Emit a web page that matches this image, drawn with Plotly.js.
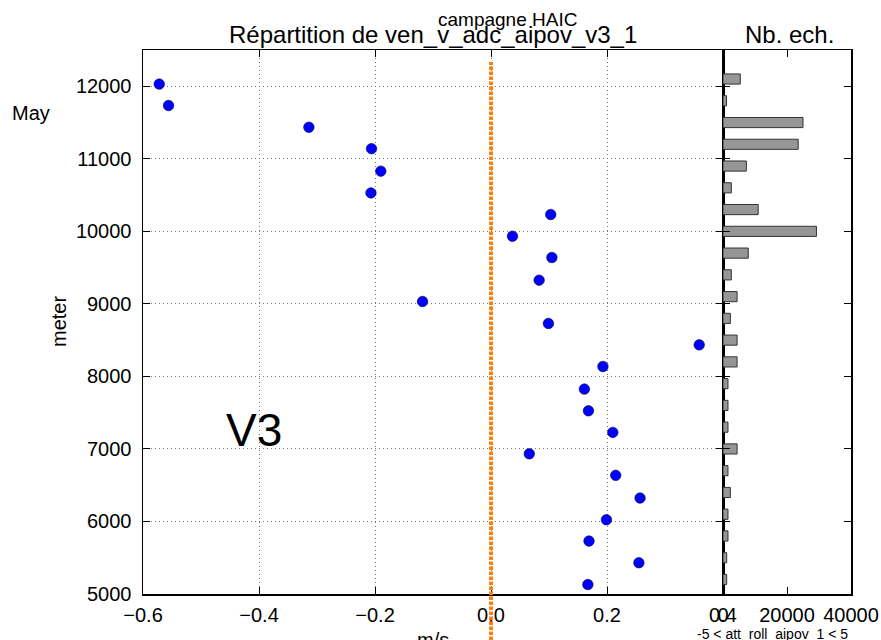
<!DOCTYPE html>
<html>
<head>
<meta charset="utf-8">
<script src="https://cdn.plot.ly/plotly-3.0.1.min.js"></script>
<style>html,body{margin:0;padding:0;background:#fff;}#chart{width:881px;height:640px;}</style>
</head>
<body>
<div id="chart"></div>
<script>
// Scatter: wind difference vs altitude
const dotAltitude = [12030, 11735, 11435, 11140, 10830, 10530, 10232, 9933, 9639, 9327, 9033, 8730,
                     8435, 8137, 7825, 7526, 7228, 6933, 6636, 6323, 6024, 5730, 5431, 5130];
const dotValue = [-0.572, -0.556, -0.314, -0.206, -0.190, -0.207, 0.103, 0.037, 0.105, 0.083, -0.118, 0.099,
                  0.359, 0.193, 0.161, 0.168, 0.210, 0.066, 0.215, 0.257, 0.199, 0.169, 0.255, 0.167];
// Histogram: sample counts per altitude layer
const barAltitude = [12100, 11800, 11500, 11200, 10900, 10600, 10300, 10000, 9700, 9400, 9100, 8800,
                     8500, 8200, 7900, 7600, 7300, 7000, 6700, 6400, 6100, 5800, 5500, 5200];
const barCount = [5400, 1100, 25000, 23500, 7300, 2600, 11000, 29200, 7900, 2600, 4400, 2300,
                  4400, 4400, 1560, 1560, 1560, 4400, 1560, 2300, 1560, 1560, 1150, 1150];
const xTicks = [-0.6, -0.4, -0.2, 0.0, 0.2, 0.4];
const xTickText = ['\u22120.6', '\u22120.4', '\u22120.2', '0.0', '0.2', '0.4'];
const yTicks = [5000, 6000, 7000, 8000, 9000, 10000, 11000, 12000];
const x2Ticks = [0, 20000, 40000];
const x2TickText = ['0', '20000', '40000'];
const refLineX = 0;

const FONT = 'Liberation Sans, Arial, sans-serif';
const L = 143, R = 851, T = 50, B = 594;
const px = v => (v - L) / (R - L);
const py = v => (B - v) / (B - T);

const traces = [
  {
    type: 'scatter', mode: 'markers', x: dotValue, y: dotAltitude,
    xaxis: 'x', yaxis: 'y',
    marker: {color: '#0000ff', size: 10.5, line: {color: '#000033', width: 0.6}},
    hoverinfo: 'x+y'
  },
  {
    type: 'bar', orientation: 'h', x: barCount, y: barAltitude,
    xaxis: 'x2', yaxis: 'y2', width: 140,
    marker: {color: '#969696', line: {color: '#333333', width: 1}}
  }
];

const axisCommon = {
  showline: true, linecolor: '#000', linewidth: 1.5, mirror: 'ticks',
  ticks: 'inside', ticklen: 7, tickwidth: 1, tickcolor: '#000',
  tickfont: {family: FONT, size: 20, color: '#000'}, zeroline: false
};

const layout = {
  width: 881, height: 640,
  margin: {l: L, r: 881 - R, t: T, b: 640 - B, pad: 0},
  paper_bgcolor: '#fff', plot_bgcolor: '#fff',
  showlegend: false,
  bargap: 0,
  xaxis: Object.assign({}, axisCommon, {
    domain: [0, px(723)], anchor: 'y', range: [-0.6, 0.4],
    tickvals: xTicks, ticktext: xTickText,
    showgrid: true, gridcolor: '#777', gridwidth: 1, griddash: '1px,3px',
    ticklabelstandoff: 2
  }),
  yaxis: Object.assign({}, axisCommon, {
    domain: [0, 1], anchor: 'x', range: [5000, 12500],
    tickvals: yTicks, ticktext: yTicks.map(String),
    showgrid: true, gridcolor: '#777', gridwidth: 1, griddash: '1px,3px',
    ticklabelstandoff: 6
  }),
  xaxis2: Object.assign({}, axisCommon, {
    domain: [px(723), 1], anchor: 'y2', range: [0, 40000],
    tickvals: x2Ticks, ticktext: x2TickText, showgrid: false,
    ticklabelstandoff: 2
  }),
  yaxis2: Object.assign({}, axisCommon, {
    domain: [0, 1], anchor: 'x2', range: [5000, 12500], matches: 'y',
    tickvals: yTicks, showticklabels: false, showgrid: false
  }),
  shapes: [{
    type: 'line', xref: 'x', yref: 'paper', x0: refLineX, x1: refLineX,
    y0: py(645), y1: py(62),
    line: {color: '#ff7f0e', width: 4, dash: '3.5px,1.5px'}
  }],
  annotations: [
    {text: 'campagne HAIC', xref: 'paper', yref: 'paper', x: px(507), y: py(19),
     xanchor: 'center', yanchor: 'middle', showarrow: false,
     font: {family: FONT, size: 19, color: '#000'}},
    {text: 'Répartition de ven_v_adc_aipov_v3_1', xref: 'paper', yref: 'paper', x: px(433), y: py(35),
     xanchor: 'center', yanchor: 'middle', showarrow: false,
     font: {family: FONT, size: 24, color: '#000'}},
    {text: 'Nb. ech.', xref: 'paper', yref: 'paper', x: px(789), y: py(35),
     xanchor: 'center', yanchor: 'middle', showarrow: false,
     font: {family: FONT, size: 24, color: '#000'}},
    {text: 'May', xref: 'paper', yref: 'paper', x: px(10), y: py(113),
     xanchor: 'left', yanchor: 'middle', showarrow: false,
     font: {family: FONT, size: 20, color: '#000'}},
    {text: 'V3', xref: 'paper', yref: 'paper', x: px(254), y: py(430),
     xanchor: 'center', yanchor: 'middle', showarrow: false,
     font: {family: FONT, size: 46, color: '#000'}},
    {text: 'meter', xref: 'paper', yref: 'paper', x: px(59), y: py(322),
     xanchor: 'center', yanchor: 'middle', showarrow: false, textangle: -90,
     font: {family: FONT, size: 20, color: '#000'}},
    {text: 'm/s', xref: 'paper', yref: 'paper', x: px(433), y: py(627),
     xanchor: 'center', yanchor: 'top', showarrow: false,
     font: {family: FONT, size: 20, color: '#000'}},
    {text: '-5 < att_roll_aipov_1 < 5', xref: 'paper', yref: 'paper', x: px(772), y: py(624),
     xanchor: 'center', yanchor: 'top', showarrow: false,
     font: {family: FONT, size: 14, color: '#000'}}
  ]
};

Plotly.newPlot('chart', traces, layout, {displayModeBar: false, staticPlot: true});
</script>
</body>
</html>
